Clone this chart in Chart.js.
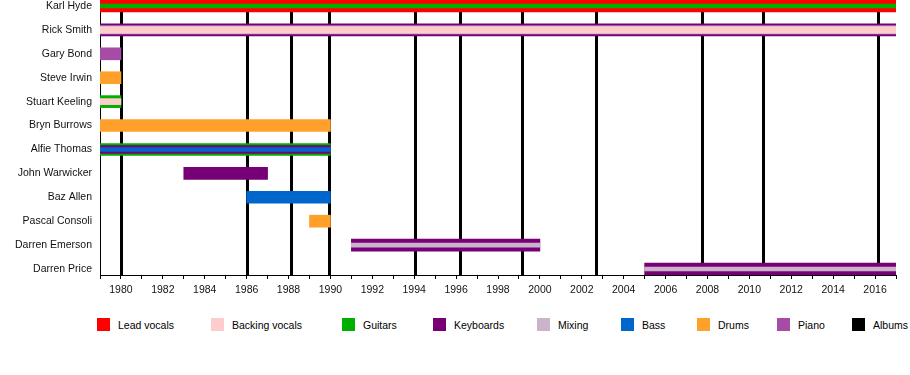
<!DOCTYPE html>
<html>
<head>
<meta charset="utf-8">
<script src="https://cdn.jsdelivr.net/npm/chart.js@4.4.1/dist/chart.umd.min.js"></script>
<style>
  body { margin: 0; background: #fff; font-family: "Liberation Sans", Arial, sans-serif; }
  #wrap { position: relative; width: 910px; height: 300px; }
  #legend { position: absolute; left: 0; top: 318px; width: 910px; height: 14px; font-size: 10.5px; color: #000; white-space: nowrap; }
  #legend .item { position: absolute; top: 0; display: flex; align-items: center; height: 13px; }
  #legend .sw { width: 13px; height: 13px; margin-right: 8px; }
</style>
</head>
<body>
<div id="wrap"><canvas id="myChart"></canvas></div>
<div id="legend"></div>
<script>
// band members, top to bottom
const members = ['Karl Hyde', 'Rick Smith', 'Gary Bond', 'Steve Irwin', 'Stuart Keeling', 'Bryn Burrows',
  'Alfie Thomas', 'John Warwicker', 'Baz Allen', 'Pascal Consoli', 'Darren Emerson', 'Darren Price'];
const roles = ['Lead vocals', 'Backing vocals', 'Guitars', 'Keyboards', 'Mixing', 'Bass', 'Drums', 'Piano'];
const roleColors = ['#ff0000', '#ffcccc', '#00b000', '#770077', '#ccb3cc', '#0066cc', '#ffa02a', '#a64ca6'];

// one entry per stripe: who, what, from, to, stripe layer (0 = outer)
const spanMember = ['Karl Hyde', 'Karl Hyde', 'Rick Smith', 'Rick Smith', 'Rick Smith', 'Gary Bond', 'Steve Irwin',
  'Stuart Keeling', 'Stuart Keeling', 'Bryn Burrows', 'Alfie Thomas', 'Alfie Thomas', 'Alfie Thomas',
  'John Warwicker', 'Baz Allen', 'Pascal Consoli', 'Darren Emerson', 'Darren Emerson', 'Darren Price', 'Darren Price'];
const spanRole = ['Lead vocals', 'Guitars', 'Keyboards', 'Mixing', 'Backing vocals', 'Piano', 'Drums',
  'Guitars', 'Backing vocals', 'Drums', 'Guitars', 'Keyboards', 'Bass',
  'Keyboards', 'Bass', 'Drums', 'Keyboards', 'Mixing', 'Keyboards', 'Mixing'];
const spanStart = [1979, 1979, 1979, 1979, 1979, 1979, 1979, 1979, 1979, 1979, 1979, 1979, 1979,
  1983, 1986, 1989, 1991, 1991, 2005, 2005];
const spanEnd = [2017, 2017, 2017, 2017, 2017, 1980, 1980, 1980, 1980, 1990, 1990, 1990, 1990,
  1987, 1990, 1990, 2000, 2000, 2017, 2017];
const spanLayer = [0, 2, 0, 1, 3, 0, 0, 0, 3, 0, 0, 1, 2, 0, 0, 0, 0, 2, 0, 2];
const layerThickness = [12, 8, 4, 6];

const albumYears = [1980.0, 1986.0, 1988.14, 1989.95, 1994.05, 1996.2, 1999.16, 2002.67, 2007.73, 2010.63, 2016.15];
const yearMin = 1979, yearMax = 2017;

// legend entries and where each one starts (px)
const legendNames = roles.concat(['Albums']);
const legendColors = roleColors.concat(['#000000']);
const legendLeft = [97, 211, 342, 433, 537, 621, 697, 777, 852];

// build one dataset per role + stripe layer
var groups = {};
for (var i = 0; i < spanMember.length; i++) {
  var key = spanRole[i] + '|' + spanLayer[i];
  if (!groups[key]) {
    var r = roles.indexOf(spanRole[i]);
    var th = layerThickness[spanLayer[i]];
    groups[key] = {
      label: spanRole[i],
      data: [],
      backgroundColor: roleColors[r],
      borderWidth: 0,
      borderSkipped: false,
      barThickness: th,
      grouped: false,
      order: th
    };
  }
  groups[key].data.push({ x: [spanStart[i], spanEnd[i]], y: members.indexOf(spanMember[i]) });
}
var datasets = Object.values(groups);

const albumLines = {
  id: 'albumLines',
  beforeDatasetsDraw(chart) {
    var ctx = chart.ctx, area = chart.chartArea, xs = chart.scales.x;
    ctx.save();
    ctx.strokeStyle = '#000';
    ctx.lineWidth = 3;
    albumYears.forEach(function (y) {
      var px = Math.round(xs.getPixelForValue(y)) + 0.5;
      ctx.beginPath();
      ctx.moveTo(px, area.top);
      ctx.lineTo(px, area.bottom);
      ctx.stroke();
    });
    ctx.restore();
  }
};

Chart.defaults.font.family = '"Liberation Sans", Arial, sans-serif';
Chart.defaults.font.size = 10.5;
Chart.defaults.color = '#111';

var context = document.getElementById('myChart').getContext('2d');
const myChart = new Chart(context, {
  type: 'bar',
  data: { datasets: datasets },
  plugins: [albumLines],
  options: {
    indexAxis: 'y',
    responsive: true,
    maintainAspectRatio: false,
    animation: false,
    layout: { padding: { top: 0, right: 14, left: 0, bottom: 0 } },
    plugins: { legend: { display: false }, tooltip: { enabled: false } },
    scales: {
      x: {
        type: 'linear',
        min: yearMin,
        max: yearMax,
        afterFit: function (s) { s.height = 25; s.paddingLeft = 0; s.paddingRight = 0; },
        ticks: {
          stepSize: 1,
          autoSkip: false,
          maxRotation: 0,
          padding: 5,
          callback: function (v) { return v % 2 === 0 ? String(v) : ''; }
        },
        grid: { display: true, drawOnChartArea: false, drawTicks: true, tickLength: 4, color: '#000' },
        border: { display: true, color: '#000', width: 1 }
      },
      y: {
        type: 'linear',
        reverse: true,
        offset: false,
        min: -0.25,
        max: 11.25,
        afterFit: function (s) { s.width = 100; s.paddingTop = 0; s.paddingBottom = 0; },
        afterBuildTicks: function (s) { s.ticks = members.map(function (m, i) { return { value: i }; }); },
        ticks: {
          padding: 8,
          autoSkip: false,
          font: { lineHeight: 1 },
          callback: function (v) { return members[v]; }
        },
        grid: { display: false, drawTicks: false },
        border: { display: true, color: '#000', width: 1 }
      }
    }
  }
});

// legend below the chart
var legend = document.getElementById('legend');
legendNames.forEach(function (name, i) {
  var item = document.createElement('div');
  item.className = 'item';
  item.style.left = legendLeft[i] + 'px';
  var sw = document.createElement('span');
  sw.className = 'sw';
  sw.style.background = legendColors[i];
  var tx = document.createElement('span');
  tx.textContent = name;
  item.appendChild(sw);
  item.appendChild(tx);
  legend.appendChild(item);
});
</script>
</body>
</html>
